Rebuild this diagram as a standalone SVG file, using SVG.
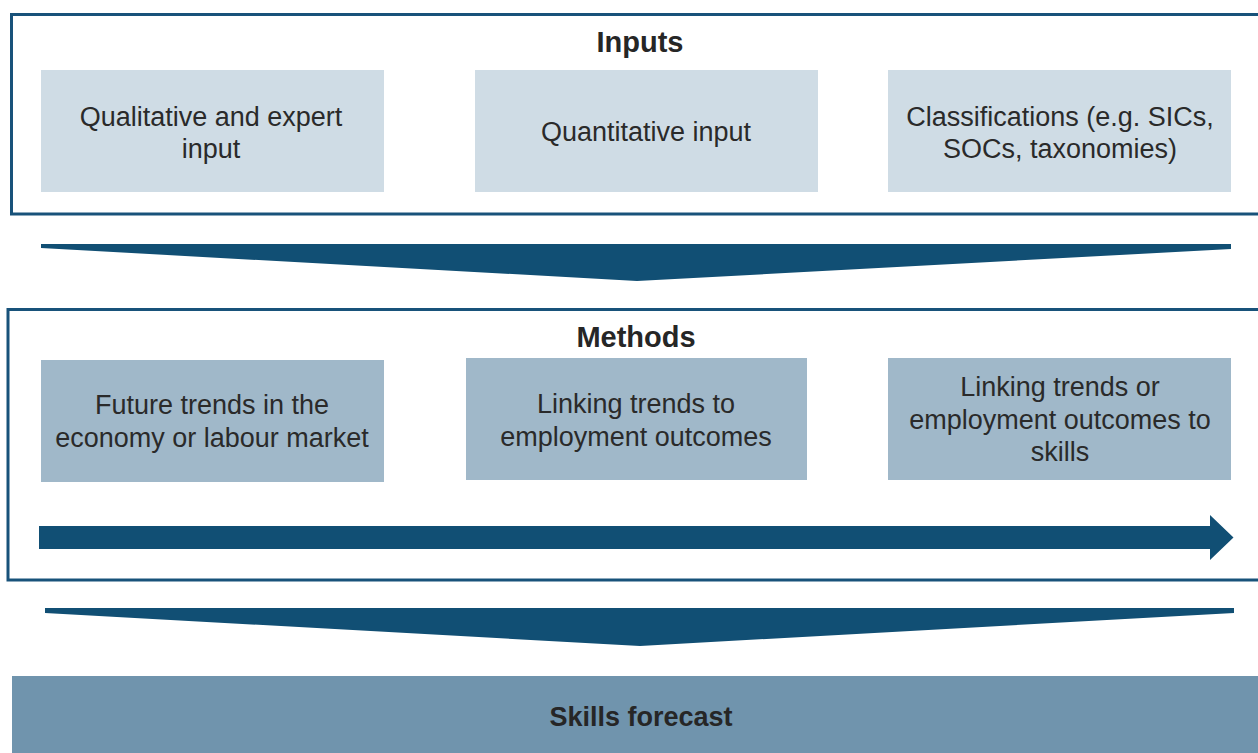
<svg xmlns="http://www.w3.org/2000/svg" width="1258" height="753" viewBox="0 0 1258 753">
  <style>
    .frame { fill: #ffffff; stroke: #18527a; stroke-width: 3; }
    .in { fill: #cfdce5; }
    .meth { fill: #a0b8c9; }
    .flow { fill: #114f74; }
    .title { font-family: "Liberation Sans", Arial, sans-serif; font-weight: bold; font-size: 29px; fill: #262626; text-anchor: middle; }
    .label { font-family: "Liberation Sans", Arial, sans-serif; font-size: 27px; fill: #2a2a2a; text-anchor: middle; }
  </style>
  <rect width="1258" height="753" fill="#ffffff"/>

  <!-- Inputs panel -->
  <g id="inputs">
    <rect class="frame" x="11.5" y="14.5" width="1250" height="199.5"/>
    <text class="title" x="640" y="52">Inputs</text>
  </g>
  <g id="qualitative">
    <rect class="in" x="41" y="70" width="343" height="122"/>
    <text class="label" x="211" y="126">Qualitative and expert</text>
    <text class="label" x="211" y="158">input</text>
  </g>
  <g id="quantitative">
    <rect class="in" x="475" y="70" width="343" height="122"/>
    <text class="label" x="646" y="141">Quantitative input</text>
  </g>
  <g id="classifications">
    <rect class="in" x="888" y="70" width="343" height="122"/>
    <text class="label" x="1060" y="126">Classifications (e.g. SICs,</text>
    <text class="label" x="1060" y="158">SOCs, taxonomies)</text>
  </g>

  <!-- Methods panel -->
  <g id="methods">
    <rect class="frame" x="8" y="309.5" width="1254" height="270.5"/>
    <text class="title" x="636" y="347">Methods</text>
  </g>
  <g id="future-trends">
    <rect class="meth" x="41" y="360" width="343" height="122"/>
    <text class="label" x="212" y="414">Future trends in the</text>
    <text class="label" x="212" y="447">economy or labour market</text>
  </g>
  <g id="linking-employment">
    <rect class="meth" x="466" y="358" width="341" height="122"/>
    <text class="label" x="636" y="413">Linking trends to</text>
    <text class="label" x="636" y="446">employment outcomes</text>
  </g>
  <g id="linking-skills">
    <rect class="meth" x="888" y="358" width="343" height="122"/>
    <text class="label" x="1060" y="396">Linking trends or</text>
    <text class="label" x="1060" y="429">employment outcomes to</text>
    <text class="label" x="1060" y="461">skills</text>
  </g>

  <!-- Output -->
  <g id="skills-forecast">
    <rect x="12" y="676" width="1250" height="80" fill="#7094ad"/>
    <text class="title" x="641" y="726" style="font-size:27px">Skills forecast</text>
  </g>

  <!-- Connectors -->
  <g id="connectors">
    <polygon class="flow" points="41,244 1231,244 1231,249 637,281 41,248"/>
    <path class="flow" d="M39,526 H1210 V515 L1233.5,537.5 L1210,560 V549 H39 Z"/>
    <polygon class="flow" points="45,608 1234,608 1234,613 640,646 45,613"/>
  </g>
</svg>
